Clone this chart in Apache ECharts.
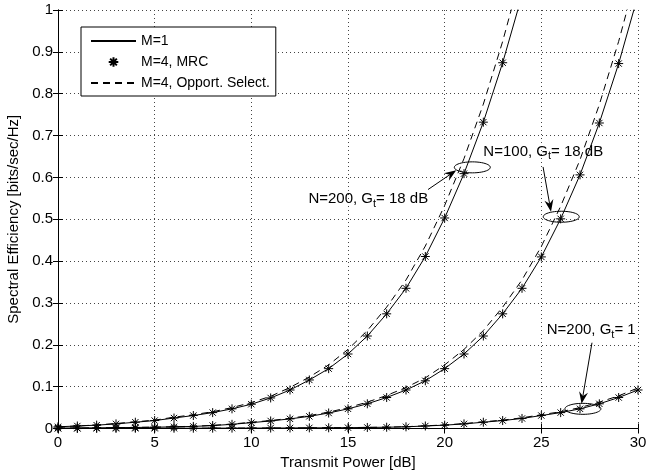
<!doctype html>
<html>
<head>
<meta charset="utf-8">
<title>Spectral Efficiency</title>
<script src="https://cdn.jsdelivr.net/npm/echarts@6/dist/echarts.min.js"></script>
<style>
    html, body { margin: 0; padding: 0; background: #fff; }
    #main { width: 647px; height: 470px; }
</style>
</head>
<body>
<div id="main"></div>
<script>
// transmit power [dB], one sample per dB
var power = [0, 1, 2, 3, 4, 5, 6, 7, 8, 9, 10, 11, 12, 13, 14, 15, 16, 17, 18, 19, 20, 21, 22, 23, 24, 25, 26, 27, 28, 29, 30];

// N=200, Gt=18 dB
var n200g18_m1  = [0.004, 0.006, 0.008, 0.011, 0.015, 0.019, 0.025, 0.031, 0.038, 0.047, 0.058, 0.073, 0.092, 0.116, 0.143, 0.178, 0.221, 0.274, 0.335, 0.411, 0.503, 0.609, 0.732, 0.874, 1.035];
var n200g18_mrc = [0.004, 0.006, 0.008, 0.011, 0.015, 0.019, 0.025, 0.031, 0.038, 0.047, 0.058, 0.073, 0.092, 0.116, 0.143, 0.178, 0.221, 0.274, 0.335, 0.411, 0.503, 0.609, 0.732, 0.874];
var n200g18_os  = [0.004, 0.006, 0.0085, 0.012, 0.016, 0.020, 0.027, 0.033, 0.040, 0.050, 0.062, 0.077, 0.098, 0.123, 0.152, 0.189, 0.234, 0.290, 0.355, 0.436, 0.533, 0.645, 0.775, 0.925, 1.095];

// N=100, Gt=18 dB
var n100g18_m1  = [0.001, 0.001, 0.0015, 0.002, 0.0025, 0.003, 0.004, 0.005, 0.007, 0.010, 0.014, 0.018, 0.023, 0.029, 0.037, 0.047, 0.059, 0.074, 0.092, 0.114, 0.143, 0.178, 0.221, 0.274, 0.335, 0.410, 0.501, 0.606, 0.730, 0.872, 1.035];
var n100g18_mrc = [0.001, 0.001, 0.0015, 0.002, 0.0025, 0.003, 0.004, 0.005, 0.007, 0.010, 0.014, 0.018, 0.023, 0.029, 0.037, 0.047, 0.059, 0.074, 0.092, 0.114, 0.143, 0.178, 0.221, 0.274, 0.335, 0.410, 0.501, 0.606, 0.730, 0.872];
var n100g18_os  = [0.001, 0.001, 0.0016, 0.0021, 0.0027, 0.0032, 0.0043, 0.0053, 0.0075, 0.0106, 0.015, 0.019, 0.0245, 0.031, 0.039, 0.050, 0.063, 0.079, 0.098, 0.121, 0.152, 0.189, 0.234, 0.290, 0.355, 0.435, 0.531, 0.642, 0.774, 0.925, 1.097];

// N=200, Gt=1
var n200g1_m1  = [0.0003, 0.0003, 0.0004, 0.0004, 0.0005, 0.0005, 0.0006, 0.0007, 0.0008, 0.0009, 0.001, 0.0011, 0.0013, 0.0015, 0.0017, 0.002, 0.0025, 0.003, 0.004, 0.006, 0.008, 0.011, 0.015, 0.019, 0.024, 0.031, 0.038, 0.047, 0.059, 0.074, 0.092];
var n200g1_mrc = [0.0003, 0.0003, 0.0004, 0.0004, 0.0005, 0.0005, 0.0006, 0.0007, 0.0008, 0.0009, 0.001, 0.0011, 0.0013, 0.0015, 0.0017, 0.002, 0.0025, 0.003, 0.004, 0.006, 0.008, 0.011, 0.015, 0.019, 0.024, 0.031, 0.038, 0.047, 0.059, 0.074, 0.092];
var n200g1_os  = [0.0003, 0.0003, 0.0004, 0.0004, 0.0005, 0.0005, 0.0006, 0.0007, 0.0008, 0.0009, 0.001, 0.0012, 0.0014, 0.0016, 0.0018, 0.0021, 0.0027, 0.0032, 0.0043, 0.0064, 0.0085, 0.0117, 0.016, 0.020, 0.0255, 0.033, 0.040, 0.050, 0.063, 0.078, 0.097];

var legendNames = ['M=1', 'M=4, MRC', 'M=4, Opport. Select.'];

// annotations (data coordinates)
var noteLabels   = [['N=200, G', 't', '= 18 dB'], ['N=100, G', 't', '= 18 dB'], ['N=200, G', 't', '= 1']];
var noteCircleAt = [[21.43, 0.624], [26.03, 0.506], [27.15, 0.047]];
var noteTextAt   = [[16.05, 0.549], [25.1, 0.662], [27.58, 0.236]];
var noteFrom     = [[19.14, 0.571], [25.09, 0.625], [27.62, 0.205]];
var noteTo       = [[20.6, 0.617], [25.5, 0.518], [27.08, 0.059]];

var FONT = '"Liberation Sans", Arial, Helvetica, sans-serif';
var STAR = 'path://M0,-5L0,5M-5,0L5,0M-3.5,-3.5L3.5,3.5M-3.5,3.5L3.5,-3.5';

function pairs(ys) {
    return ys.map(function (y, i) { return [power[i], y]; });
}

function solid(ys) {
    return {
        type: 'line', name: legendNames[0], data: pairs(ys),
        symbol: 'none',
        itemStyle: { color: '#000' },
        lineStyle: { color: '#000', width: 1 }, z: 3
    };
}
function mrc(ys) {
    return {
        type: 'line', name: legendNames[1], data: pairs(ys),
        symbol: STAR, symbolSize: 9, showAllSymbol: true,
        itemStyle: { color: '#000', borderColor: '#000', borderWidth: 1 },
        lineStyle: { color: '#000', width: 1, opacity: 0 }, z: 4
    };
}
function opport(ys) {
    return {
        type: 'line', name: legendNames[2], data: pairs(ys),
        symbol: 'none',
        itemStyle: { color: '#000' },
        lineStyle: { color: '#000', width: 1, type: [7, 5] }, z: 3
    };
}

function renderNote(params, api) {
    var i = api.value(2);
    var c = api.coord([api.value(0), api.value(1)]);
    var t = api.coord(noteTextAt[i]);
    var f = api.coord(noteFrom[i]);
    var to = api.coord(noteTo[i]);

    var ring = [];
    for (var k = 0; k < 48; k++) {
        var a = k / 48 * Math.PI * 2;
        ring.push([c[0] + 18 * Math.cos(a), c[1] + 5.5 * Math.sin(a)]);
    }

    var dx = to[0] - f[0], dy = to[1] - f[1];
    var len = Math.sqrt(dx * dx + dy * dy);
    var ux = dx / len, uy = dy / len, nx = -uy, ny = ux;
    var L = 12, W = 4.5;
    var head = [
        [to[0], to[1]],
        [to[0] - L * ux + W * nx, to[1] - L * uy + W * ny],
        [to[0] - (L - 4) * ux, to[1] - (L - 4) * uy],
        [to[0] - L * ux - W * nx, to[1] - L * uy - W * ny]
    ];

    var lab = noteLabels[i];
    return {
        type: 'group',
        children: [
            { type: 'polygon', shape: { points: ring }, style: { fill: 'none', stroke: '#000', lineWidth: 1 } },
            { type: 'line', shape: { x1: f[0], y1: f[1], x2: to[0] - (L - 4) * ux, y2: to[1] - (L - 4) * uy }, style: { stroke: '#000', lineWidth: 1 } },
            { type: 'polygon', shape: { points: head }, style: { fill: '#000' } },
            {
                type: 'text', x: t[0], y: t[1],
                style: {
                    text: '{n|' + lab[0] + '}{s|' + lab[1] + '}{n|' + lab[2] + '}',
                    align: 'center', verticalAlign: 'middle',
                    rich: {
                        n: { fontSize: 15, fontFamily: FONT, fill: '#000', color: '#000' },
                        s: { fontSize: 11, fontFamily: FONT, fill: '#000', color: '#000', padding: [10, 0, 0, 0] }
                    }
                }
            }
        ]
    };
}

var chart = echarts.init(document.getElementById('main'));

var axisCommon = {
    type: 'value',
    axisLine: { show: true, lineStyle: { color: '#000', width: 1 } },
    axisTick: { show: true, inside: true, length: 5, lineStyle: { color: '#000' } }
};

chart.setOption({
    animation: false,
    backgroundColor: '#fff',
    color: ['#000'],
    textStyle: { fontFamily: FONT },
    grid: { left: 58, top: 10, width: 580, height: 418.5, outerBoundsMode: 'none', containLabel: false },
    legend: {
        data: [
            { name: legendNames[0], itemStyle: { opacity: 0 } },
            { name: legendNames[1] },
            { name: legendNames[2], itemStyle: { opacity: 0 } }
        ],
        orient: 'vertical',
        left: 81, top: 27,
        backgroundColor: '#fff',
        borderColor: '#000', borderWidth: 1, borderRadius: 0,
        padding: [7, 6, 6, 9],
        itemWidth: 45, itemHeight: 12, itemGap: 7,
        selectedMode: false,
        textStyle: { fontSize: 14, color: '#000', fontFamily: FONT }
    },
    xAxis: [
        Object.assign({}, axisCommon, {
            min: 0, max: 30, interval: 5, position: 'bottom',
            name: 'Transmit Power [dB]', nameLocation: 'middle', nameGap: 24,
            nameTextStyle: { fontSize: 15, color: '#000', fontFamily: FONT },
            axisLabel: { fontSize: 15, color: '#000', margin: 7, fontFamily: FONT },
            splitLine: { show: true, lineStyle: { color: '#444', width: 1, type: [1, 3] } }
        }),
        Object.assign({}, axisCommon, {
            min: 0, max: 30, interval: 5, position: 'top',
            axisLabel: { show: false }, splitLine: { show: false }
        })
    ],
    yAxis: [
        Object.assign({}, axisCommon, {
            min: 0, max: 1, interval: 0.1, position: 'left',
            name: 'Spectral Efficiency [bits/sec/Hz]', nameLocation: 'middle', nameGap: 37,
            nameTextStyle: { fontSize: 15, color: '#000', fontFamily: FONT },
            axisLabel: { fontSize: 15, color: '#000', margin: 5, fontFamily: FONT },
            splitLine: { show: true, lineStyle: { color: '#444', width: 1, type: [1, 3] } }
        }),
        Object.assign({}, axisCommon, {
            min: 0, max: 1, interval: 0.1, position: 'right',
            axisLabel: { show: false }, splitLine: { show: false }
        })
    ],
    series: [
        solid(n200g18_m1), mrc(n200g18_mrc), opport(n200g18_os),
        solid(n100g18_m1), mrc(n100g18_mrc), opport(n100g18_os),
        solid(n200g1_m1), mrc(n200g1_mrc), opport(n200g1_os),
        {
            type: 'custom',
            coordinateSystem: 'cartesian2d',
            silent: true,
            z: 6,
            data: noteCircleAt.map(function (p, i) { return [p[0], p[1], i]; }),
            renderItem: renderNote
        }
    ]
});
</script>
</body>
</html>
